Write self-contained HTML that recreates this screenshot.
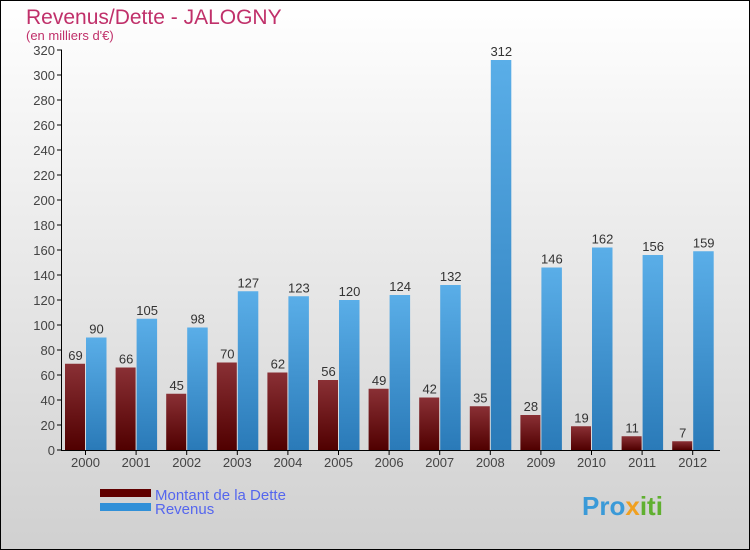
<!DOCTYPE html>
<html><head><meta charset="utf-8"><style>
body{margin:0}
svg{display:block;font-family:"Liberation Sans",sans-serif}
</style></head><body>
<svg id="c" width="750" height="550">
<defs>
<linearGradient id="bg" x1="0" y1="0" x2="0" y2="1"><stop offset="0" stop-color="#ffffff"/><stop offset="1" stop-color="#d0d0d0"/></linearGradient>
<linearGradient id="gd" x1="0" y1="0" x2="0" y2="1"><stop offset="0" stop-color="#8a3035"/><stop offset="1" stop-color="#500000"/></linearGradient>
<linearGradient id="gr" x1="0" y1="0" x2="0" y2="1"><stop offset="0" stop-color="#5aaee8"/><stop offset="1" stop-color="#2a7ab8"/></linearGradient>
</defs>
<rect x="0.5" y="0.5" width="749" height="549" fill="url(#bg)" stroke="#000"/>
<text x="26" y="24" font-size="21" fill="#c0306a">Revenus/Dette - JALOGNY</text>
<text x="26" y="40" font-size="13" fill="#c0306a">(en milliers d'€)</text>
<g id="plot"></g>
<rect x="100" y="489" width="51" height="8" fill="#600000"/>
<rect x="100" y="503" width="51" height="8" fill="#3090d8"/>
<text x="155" y="500" font-size="15" fill="#5566ee">Montant de la Dette</text>
<text x="155" y="514" font-size="15" fill="#5566ee">Revenus</text>
<text x="582" y="515" font-size="26" font-weight="bold" fill="#3a9ad8">Pro<tspan fill="#f0a020">x</tspan><tspan fill="#60b030">iti</tspan></text>
</svg>
<script>
const years=["2000","2001","2002","2003","2004","2005","2006","2007","2008","2009","2010","2011","2012"];
const dette=[69,66,45,70,62,56,49,42,35,28,19,11,7];
const revenus=[90,105,98,127,123,120,124,132,312,146,162,156,159];
const yTicks=[0,20,40,60,80,100,120,140,160,180,200,220,240,260,280,300,320];
const NS="http://www.w3.org/2000/svg",g=document.getElementById('plot');
const y=v=>450-v*400/320, cx=i=>85.5+i*50.6;
function mk(t,a,txt){const e=document.createElementNS(NS,t);for(const k in a)e.setAttribute(k,a[k]);if(txt!==undefined)e.textContent=txt;g.appendChild(e);return e;}
yTicks.forEach(v=>{
 let l=mk('line',{x1:57,x2:62,y1:y(v),y2:y(v),stroke:'#000'});
 
 
 let t=mk('text',{x:55,y:y(v)+5,'text-anchor':'end','font-size':13,fill:'#444'},v);
 
 
});
years.forEach((yr,i)=>{
 const c=cx(i);
 let b=mk('rect',{x:c-20.5,y:y(dette[i]),width:20,height:450-y(dette[i]),fill:'url(#gd)'});
 
 
 let r=mk('rect',{x:c+0.5,y:y(revenus[i]),width:20.5,height:450-y(revenus[i]),fill:'url(#gr)'});
 
 
 let t1=mk('text',{x:c-10,y:y(dette[i])-4,'text-anchor':'middle','font-size':13,fill:'#333'},dette[i]);
 
 
 let t2=mk('text',{x:c+11,y:y(revenus[i])-4,'text-anchor':'middle','font-size':13,fill:'#333'},revenus[i]);
 
 
 let tk=mk('line',{x1:c,x2:c,y1:450,y2:455,stroke:'#000'});
 
 
 let xl=mk('text',{x:c,y:467,'text-anchor':'middle','font-size':13,fill:'#444'},yr);
 
 
});
let ax=mk('line',{x1:61.5,x2:61.5,y1:50,y2:450.5,stroke:'#000'});


let bx=mk('line',{x1:61,x2:720,y1:450.5,y2:450.5,stroke:'#000'});


</script>
</body></html>
